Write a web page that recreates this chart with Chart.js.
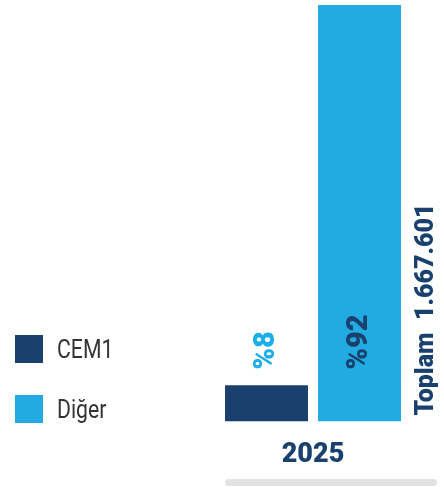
<!DOCTYPE html>
<html lang="tr">
<head>
<meta charset="utf-8">
<script src="https://cdn.jsdelivr.net/npm/chart.js@4/dist/chart.umd.min.js"></script>
<style>
    html, body { margin: 0; padding: 0; background: #fff; }
    #wrap { position: relative; width: 444px; height: 487px; }
    #chart1 { position: absolute; left: 0; top: 0; }
    .legend { position: absolute; left: 15px; top: 335px; font-family: Roboto, sans-serif; }
    .legend-item { display: flex; align-items: center; height: 28px; margin-bottom: 32px; }
    .legend-box { width: 28px; height: 28px; margin-right: 14px; flex: none; }
    .legend-text { font-size: 25px; color: #333; transform: scaleX(0.85); transform-origin: left center; white-space: nowrap; }
</style>
</head>
<body>
<div id="wrap">
    <canvas id="chart1" width="444" height="487"></canvas>
    <div class="legend" id="legend"></div>
</div>
<script>
const YEARS = ['2025'];
const SERIES_NAMES = ['CEM1', 'Diğer'];
const CEM1_SHARE = [8];
const OTHER_SHARE = [92];
const TOTAL_LABEL = 'Toplam  1.667.601';

const DARK = '#1a406d';
const LIGHT = '#22abe2';

// vertical percentage labels, the total and the grey rule under the axis
const extras = {
    id: 'extras',
    afterDatasetsDraw(chart) {
        const {ctx, chartArea} = chart;
        ctx.save();
        ctx.font = '900 29px Roboto, sans-serif';
        ctx.textAlign = 'left';
        ctx.textBaseline = 'middle';
        const labelColors = ['#1aaeea', DARK];
        chart.data.datasets.forEach((ds, i) => {
            const meta = chart.getDatasetMeta(i);
            meta.data.forEach((bar, j) => {
                ctx.save();
                ctx.translate(bar.x, bar.base - 52);
                ctx.rotate(-Math.PI / 2);
                ctx.fillStyle = labelColors[i];
                ctx.fillText('%' + ds.data[j], 0, 0);
                ctx.restore();
            });
        });

        ctx.save();
        ctx.font = '900 25px Roboto, sans-serif';
        ctx.fillStyle = DARK;
        ctx.translate(chartArea.right + 21, chartArea.bottom - 6);
        ctx.rotate(-Math.PI / 2);
        ctx.fillText(TOTAL_LABEL, 0, 0);
        ctx.restore();

        ctx.fillStyle = '#e2e2e2';
        ctx.beginPath();
        ctx.roundRect(chartArea.left + 5, 479, 212, 7, 3.5);
        ctx.fill();
        ctx.restore();
    }
};

const chart = new Chart(document.getElementById('chart1'), {
    type: 'bar',
    data: {
        labels: YEARS,
        datasets: [
            {label: SERIES_NAMES[0], data: CEM1_SHARE, backgroundColor: DARK},
            {label: SERIES_NAMES[1], data: OTHER_SHARE, backgroundColor: LIGHT},
        ]
    },
    options: {
        responsive: false,
        animation: false,
        layout: {padding: {left: 220, right: 38, top: 5, bottom: 7}},
        datasets: {bar: {categoryPercentage: 1, barPercentage: 0.892}},
        scales: {
            x: {
                grid: {display: false},
                border: {display: false},
                ticks: {
                    color: DARK,
                    padding: 9,
                    font: {family: 'Roboto, sans-serif', size: 27, weight: '900'},
                },
            },
            y: {display: false, min: 0, max: 92},
        },
        plugins: {
            legend: {display: false},
            tooltip: {enabled: false},
        }
    },
    plugins: [extras]
});

const legendEl = document.getElementById('legend');
chart.data.datasets.forEach(ds => {
    const item = document.createElement('div');
    item.className = 'legend-item';
    item.innerHTML = '<span class="legend-box" style="background:' + ds.backgroundColor + '"></span>' +
        '<span class="legend-text">' + ds.label + '</span>';
    legendEl.appendChild(item);
});
</script>
</body>
</html>
